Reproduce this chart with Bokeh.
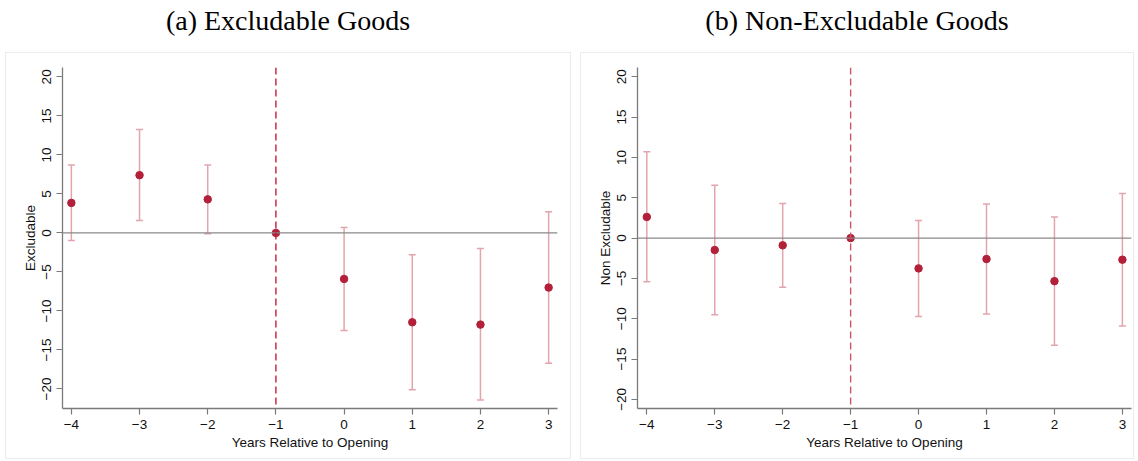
from bokeh.plotting import figure
from bokeh.models import Range1d, FixedTicker, Span, Whisker, TeeHead, ColumnDataSource, Div
from bokeh.layouts import row, column
from bokeh.embed import file_html
from bokeh.resources import INLINE

# ---- data ----
years = [-4, -3, -2, -1, 0, 1, 2, 3]
x_ticks = [-4, -3, -2, -1, 0, 1, 2, 3]
y_ticks = [-20, -15, -10, -5, 0, 5, 10, 15, 20]

excl_coef = [3.85, 7.4, 4.3, 0.0, -5.9, -11.45, -11.75, -7.0]
excl_lo = [-0.98, 1.6, -0.1, 0.0, -12.5, -20.1, -21.4, -16.7]
excl_hi = [8.7, 13.25, 8.7, 0.0, 0.7, -2.8, -2.0, 2.7]

nonex_coef = [2.62, -1.48, -0.9, 0.0, -3.76, -2.6, -5.34, -2.68]
nonex_lo = [-5.4, -9.5, -6.1, 0.0, -9.73, -9.4, -13.3, -10.9]
nonex_hi = [10.7, 6.55, 4.3, 0.0, 2.17, 4.24, 2.62, 5.53]

base_year = -1
title_a = "(a) Excludable Goods"
title_b = "(b) Non-Excludable Goods"
ylabel_a = "Excludable"
ylabel_b = "Non Excludable"
xlabel = "Years Relative to Opening"

POINT = "#b3203a"
CI = "#e2a5ae"
SANS = "Liberation Sans"


def panel(coef, lo, hi, ylabel, xr, yr, width, mb_right, dash_color):
    p = figure(width=width, height=407, output_backend="svg", toolbar_location=None,
               x_range=Range1d(*xr), y_range=Range1d(*yr),
               min_border_left=56, min_border_right=mb_right,
               min_border_top=14, min_border_bottom=52,
               styles={"border": "1px solid #ececec"})
    p.outline_line_color = None
    p.grid.visible = False
    p.background_fill_color = "white"
    p.border_fill_color = "white"

    for ax in (p.xaxis[0], p.yaxis[0]):
        ax.axis_line_color = "#7a7a7a"
        ax.axis_line_width = 1.3
        ax.major_tick_line_color = "#7a7a7a"
        ax.major_tick_line_width = 1.2
        ax.major_tick_out = 6
        ax.major_tick_in = 0
        ax.minor_tick_line_color = None
        ax.major_label_text_font = SANS
        ax.major_label_text_font_size = "13.5px"
        ax.major_label_text_color = "#111111"
        ax.axis_label_text_font = SANS
        ax.axis_label_text_font_size = "13.5px"
        ax.axis_label_text_font_style = "normal"
        ax.axis_label_text_color = "#111111"
        ax.major_label_standoff = 5

    p.xaxis.ticker = FixedTicker(ticks=x_ticks)
    p.yaxis.ticker = FixedTicker(ticks=y_ticks)
    p.yaxis.major_label_orientation = "vertical"
    p.xaxis.axis_label = xlabel
    p.yaxis.axis_label = ylabel
    p.xaxis.axis_label_standoff = 3
    p.yaxis.axis_label_standoff = 2

    zero = Span(location=0, dimension="width", line_color="#8a8a8a", line_width=1.2)
    vline = Span(location=base_year, dimension="height", line_color=dash_color,
                 line_width=1.4, line_dash="7 4")
    p.add_layout(zero)
    p.add_layout(vline)

    keep = [i for i, y in enumerate(years) if y != base_year]
    ci_src = ColumnDataSource(dict(x=[years[i] for i in keep],
                                   lo=[lo[i] for i in keep],
                                   hi=[hi[i] for i in keep]))
    w = Whisker(base="x", lower="lo", upper="hi", source=ci_src,
                line_color=CI, line_width=1.5,
                upper_head=TeeHead(size=7, line_color=CI, line_width=1.5),
                lower_head=TeeHead(size=7, line_color=CI, line_width=1.5))
    p.add_layout(w)

    pt_src = ColumnDataSource(dict(x=years, y=coef))
    p.scatter("x", "y", source=pt_src, size=7.5, fill_color=POINT, line_color=POINT)
    return p


def title_div(text, width):
    html = ('<div style="width:%dpx;text-align:center;font-family:\'Liberation Serif\';'
            'font-size:28px;line-height:28px;padding-top:7px;color:#000;">%s</div>') % (width, text)
    return Div(text=html, width=width, height=52, margin=0)


pa = panel(excl_coef, excl_lo, excl_hi, ylabel_a, (-4.13, 3.13), (-22.5, 21.2), 566, 15, "#c41e3a")
pb = panel(nonex_coef, nonex_lo, nonex_hi, ylabel_b, (-4.137, 3.134), (-21.13, 21.15), 554, 4, "#cc5468")
pa.margin = 0
pb.margin = 0

left = column(title_div(title_a, 566), pa, spacing=0, margin=(0, 0, 0, 5))
right = column(title_div(title_b, 554), pb, spacing=0, margin=(0, 0, 0, 9))
layout = row(left, right, spacing=0, margin=0)

open("out.html", "w").write(file_html(layout, INLINE))
